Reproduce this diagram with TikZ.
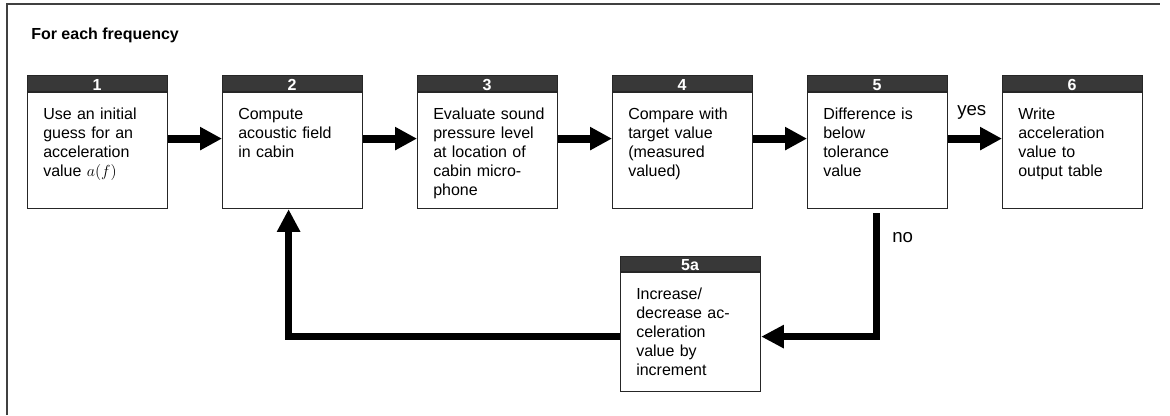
\documentclass[tikz,border=0pt]{standalone}
\usepackage{fontspec}
\setmainfont{Liberation Sans}
\usetikzlibrary{arrows.meta,calc}
\definecolor{hdrgray}{HTML}{383838}
\definecolor{framegray}{HTML}{404040}
\tikzset{
  boxframe/.style={draw=black!85, line width=0.9pt, fill=none, inner sep=0pt, anchor=north west},
  hdr/.style={fill=hdrgray},
  num/.style={text=white, font=\fontsize{12}{13}\selectfont\bfseries, anchor=base, inner sep=0pt},
  txt/.style={font=\fontsize{12}{14.25}\selectfont, text width=95pt, align=left, anchor=base west, inner sep=0pt},
  lbl/.style={font=\fontsize{14}{16}\selectfont, anchor=base west, inner sep=0pt},
  flow/.style={line width=6pt, -{Triangle[length=16.5pt,width=16.5pt]}},
  loopline/.style={line width=5pt, line join=miter, -{Triangle[length=17pt,width=16.5pt]}},
}
\newcommand{\flowbox}[7]{%
  % #1 name, #2 left, #3 top, #4 header bottom, #5 bottom, #6 number, #7 text
  \fill[hdr] (#2,#3) rectangle (#2+140,#4);
  \node[boxframe, minimum width=105pt, minimum height={(#5-#3)*0.75pt}] (#1) at (#2,#3) {};
  \draw[draw=black!85, line width=0.9pt] (#2,#4) -- (#2+140,#4);
  \node[num] (#1n) at (#2+70,#4-1.5) {#6};
  \node[txt] (#1t) at (#2+16,#4+27) {#7};
}
\begin{document}
\begin{tikzpicture}[x=0.75pt,y=-0.75pt]
\useasboundingbox (0,0) rectangle (1170,415);
\draw[framegray, line width=1.4pt] (7,415) -- (7,4) -- (1160,4);
\node[font=\fontsize{12}{14}\selectfont\bfseries, anchor=base west, inner sep=0pt] (title) at (31,39) {For each frequency};

\flowbox{b1}{27}{75}{92}{208}{1}{Use an initial\\guess for an\\acceleration\\value $a(f)$}
\flowbox{b2}{222}{75}{92}{208}{2}{Compute\\acoustic field\\in cabin}
\flowbox{b3}{417}{75}{92}{208}{3}{Evaluate sound\\pressure level\\at location of\\cabin micro-\\phone}
\flowbox{b4}{612}{75}{92}{208}{4}{Compare with\\target value\\(measured\\valued)}
\flowbox{b5}{807}{75}{92}{208}{5}{Difference is\\below\\tolerance\\value}
\flowbox{b6}{1002}{75}{92}{208}{6}{Write\\acceleration\\value to\\output table}
\flowbox{b5a}{620}{256}{272}{391}{5a}{Increase/\\decrease ac-\\celeration\\value by\\increment}

\draw[flow] ($(b1.east)+(0,-3.5)$) -- ($(b2.west)+(0,-3.5)$);
\draw[flow] ($(b2.east)+(0,-3.5)$) -- ($(b3.west)+(0,-3.5)$);
\draw[flow] ($(b3.east)+(0,-3.5)$) -- ($(b4.west)+(0,-3.5)$);
\draw[flow] ($(b4.east)+(0,-3.5)$) -- ($(b5.west)+(0,-3.5)$);
\draw[flow] ($(b5.east)+(0,-3.5)$) -- ($(b6.west)+(0,-3.5)$);

\node[lbl] (yes) at (957,115) {yes};
\node[lbl] (no) at (892,242) {no};

\coordinate (s5) at ($(b5.south)+(-1,4)$);
\coordinate (in5a) at ($(b5a.east)+(0,12.5)$);
\coordinate (out5a) at ($(b5a.west)+(0,12.5)$);
\coordinate (in2) at ($(b2.south)+(-4,0)$);
\draw[loopline] (s5) |- (in5a);
\draw[loopline] (out5a) -| (in2);
\end{tikzpicture}
\end{document}
